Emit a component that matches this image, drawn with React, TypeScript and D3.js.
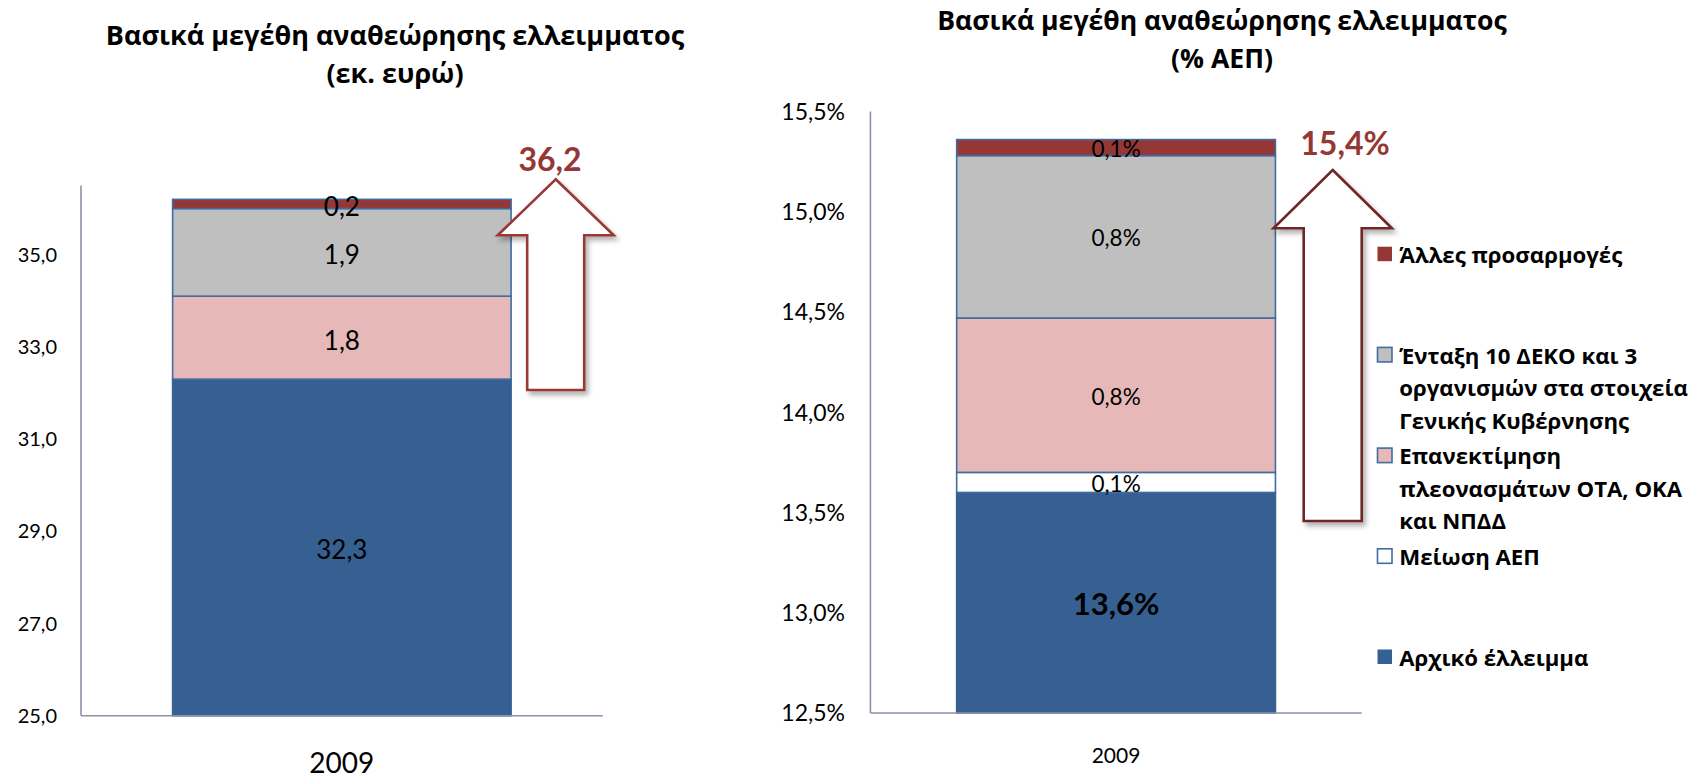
import React from "react";
import * as d3 from "d3";

// ---------- data ----------
const category = ["2009"];
const seriesKeys = ["initial", "gdp", "reval", "deko", "other"];
const seriesNames = [
  "Αρχικό έλλειμμα",
  "Μείωση ΑΕΠ",
  "Επανεκτίμηση πλεονασμάτων ΟΤΑ, ΟΚΑ και ΝΠΔΔ",
  "Ένταξη 10 ΔΕΚΟ και 3 οργανισμών στα στοιχεία Γενικής Κυβέρνησης",
  "Άλλες προσαρμογές",
];
const seriesColors = ["#376092", "#FFFFFF", "#E6B9B8", "#BFBFBF", "#953735"];
const valuesEuro = [32.3, 0, 1.8, 1.9, 0.2];
const valuesGdp = [13.6, 0.1, 0.77, 0.81, 0.08];
const ticksEuro = [25, 27, 29, 31, 33, 35];
const ticksGdp = [12.5, 13, 13.5, 14, 14.5, 15, 15.5];
const titleEuro = ["Βασικά μεγέθη αναθεώρησης ελλειμματος", "(εκ. ευρώ)"];
const titleGdp = ["Βασικά μεγέθη αναθεώρησης ελλειμματος", "(% ΑΕΠ)"];
const legendOrder = [4, 3, 2, 1, 0];
const legendLines = [
  ["Αρχικό έλλειμμα"],
  ["Μείωση ΑΕΠ"],
  ["Επανεκτίμηση", "πλεονασμάτων ΟΤΑ, ΟΚΑ", "και ΝΠΔΔ"],
  ["Ένταξη 10 ΔΕΚΟ και 3", "οργανισμών στα στοιχεία", "Γενικής Κυβέρνησης"],
  ["Άλλες προσαρμογές"],
];

const FONT = "Lato, 'Noto Sans', sans-serif";
const GFONT = "'Open Sans', 'Noto Sans', sans-serif";
const BORDER = "#416CA2";
const AXIS = "#8C91AA";

const fmt1 = (v: number) => d3.format(".1f")(v).replace(".", ",");

function stackOf(values: number[]) {
  const row: any = { cat: category[0] };
  seriesKeys.forEach((k, i) => (row[k] = values[i]));
  return d3.stack().keys(seriesKeys)([row]);
}

type PanelProps = {
  values: number[];
  ticks: number[];
  domain: [number, number];
  xRange: [number, number];
  yRange: [number, number];
  tickX: number;
  tickFont: number;
  tickFmt: (v: number) => string;
  labelFmt: (v: number) => string;
  labelFont: number;
  labelDy: number;
  boldFirst: boolean;
  catFont: number;
  catY: number;
};

function Panel(p: PanelProps) {
  const x = d3.scaleBand().domain(category).range(p.xRange).padding(0.213);
  const y = d3.scaleLinear().domain(p.domain).range(p.yRange).clamp(true);
  const stacked = stackOf(p.values);
  const bw = x.bandwidth();
  return (
    <g>
      {stacked.map((s, i) =>
        s.map((d, j) => {
          const v = d[1] - d[0];
          if (v <= 0) return null;
          return (
            <rect
              key={`${i}-${j}`}
              x={x(category[j])!}
              y={y(d[1])}
              width={bw}
              height={y(d[0]) - y(d[1])}
              fill={seriesColors[i]}
              stroke={i === 0 ? seriesColors[0] : BORDER}
              strokeWidth={1.6}
            />
          );
        })
      )}
      <line x1={p.xRange[0]} x2={p.xRange[0]} y1={p.yRange[0]} y2={p.yRange[1]} stroke={AXIS} strokeWidth={1.6} />
      <line x1={p.xRange[0]} x2={p.xRange[1]} y1={p.yRange[0]} y2={p.yRange[0]} stroke={AXIS} strokeWidth={1.6} />
      {p.ticks.map((t) => (
        <text
          key={t}
          x={p.tickX}
          y={y(t) + p.tickFont * 0.36}
          textAnchor="end"
          fontSize={p.tickFont}
          fontFamily={FONT}
          fill="#000"
        >
          {p.tickFmt(t)}
        </text>
      ))}
      {stacked.map((s, i) =>
        s.map((d, j) => {
          const v = d[1] - d[0];
          if (v <= 0) return null;
          const bold = p.boldFirst && i === 0;
          const fs = bold ? p.labelFont * 1.38 : p.labelFont;
          return (
            <text
              key={`l${i}-${j}`}
              x={x(category[j])! + bw / 2}
              y={(y(d[0]) + y(d[1])) / 2 + fs * 0.36 + p.labelDy}
              textAnchor="middle"
              fontSize={fs}
              fontWeight={bold ? 700 : 400}
              fontFamily={FONT}
              fill="#000"
            >
              {p.labelFmt(v)}
            </text>
          );
        })
      )}
      {category.map((c) => (
        <text
          key={c}
          x={x(c)! + bw / 2}
          y={p.catY}
          textAnchor="middle"
          fontSize={p.catFont}
          fontFamily={FONT}
          fill="#000"
        >
          {c}
        </text>
      ))}
    </g>
  );
}

function Arrow({ tipX, tipY, headY, headHalf, shaftHalf, bottomY, color }: any) {
  const d = [
    [tipX, tipY],
    [tipX + headHalf, headY],
    [tipX + shaftHalf, headY],
    [tipX + shaftHalf, bottomY],
    [tipX - shaftHalf, bottomY],
    [tipX - shaftHalf, headY],
    [tipX - headHalf, headY],
  ];
  return (
    <path
      d={d3.line()(d as [number, number][])! + "Z"}
      fill="#fff"
      stroke={color}
      strokeWidth={2.6}
      strokeLinejoin="miter"
      filter="url(#shadow)"
    />
  );
}

export default function App() {
  const totalEuro = d3.sum(valuesEuro);
  const totalGdp = d3.sum(valuesGdp);
  return (
    <svg
      width={1697}
      height={779}
      style={{ position: "fixed", left: 0, top: 0, background: "#fff" }}
    >
      <defs>
        <filter id="shadow" x="-20%" y="-20%" width="150%" height="150%">
          <feDropShadow dx="3" dy="4" stdDeviation="2.5" floodColor="#000" floodOpacity="0.3" />
        </filter>
      </defs>
      <rect width={1697} height={779} fill="#fff" />

      {titleEuro.map((t, i) => (
        <text key={t} x={395} y={45 + i * 37.5} textAnchor="middle" fontSize={27} fontWeight={700} fontFamily={GFONT}>
          {t}
        </text>
      ))}
      {titleGdp.map((t, i) => (
        <text key={t} x={1222} y={30 + i * 38} textAnchor="middle" fontSize={26.6} fontWeight={700} fontFamily={GFONT}>
          {t}
        </text>
      ))}

      <Panel
        values={valuesEuro}
        ticks={ticksEuro}
        domain={[25, 36.5]}
        xRange={[81, 602.7]}
        yRange={[715.7, 185.5]}
        tickX={57}
        tickFont={20}
        tickFmt={fmt1}
        labelFmt={fmt1}
        labelFont={26}
        labelDy={2.5}
        boldFirst={false}
        catFont={28}
        catY={773}
      />
      <Panel
        values={valuesGdp}
        ticks={ticksGdp}
        domain={[12.5, 15.5]}
        xRange={[870.4, 1361.7]}
        yRange={[713, 111.5]}
        tickX={845}
        tickFont={23}
        tickFmt={(v) => fmt1(v) + "%"}
        labelFmt={(v) => fmt1(v) + "%"}
        labelFont={22.5}
        labelDy={1.5}
        boldFirst={true}
        catFont={21}
        catY={763}
      />

      <Arrow tipX={555.7} tipY={179.3} headY={235.3} headHalf={58} shaftHalf={28.5} bottomY={390} color="#9A3836" />
      <Arrow tipX={1332.7} tipY={170} headY={228.3} headHalf={59.2} shaftHalf={29} bottomY={521} color="#6E2828" />

      <text x={550} y={170.5} textAnchor="middle" fontSize={32} fontWeight={700} fontFamily={FONT} fill="#953735">
        {fmt1(totalEuro)}
      </text>
      <text x={1345} y={155} textAnchor="middle" fontSize={32} fontWeight={700} fontFamily={FONT} fill="#953735">
        {fmt1(totalGdp) + "%"}
      </text>

      {legendOrder.map((si, k) => {
        const base = 263 + k * 100.7;
        const bordered = si !== 0 && si !== 4;
        return (
          <g key={si}>
            <rect
              x={1377.5}
              y={base - 16.3}
              width={14.5}
              height={14.5}
              fill={seriesColors[si]}
              stroke={bordered ? BORDER : "none"}
              strokeWidth={1.6}
            />
            {legendLines[si].map((ln, li) => (
              <text
                key={li}
                x={1399.3}
                y={base + li * 32.5}
                fontSize={22.2}
                fontWeight={700}
                fontFamily={GFONT}
                fill="#000"
              >
                {ln}
              </text>
            ))}
          </g>
        );
      })}
    </svg>
  );
}
